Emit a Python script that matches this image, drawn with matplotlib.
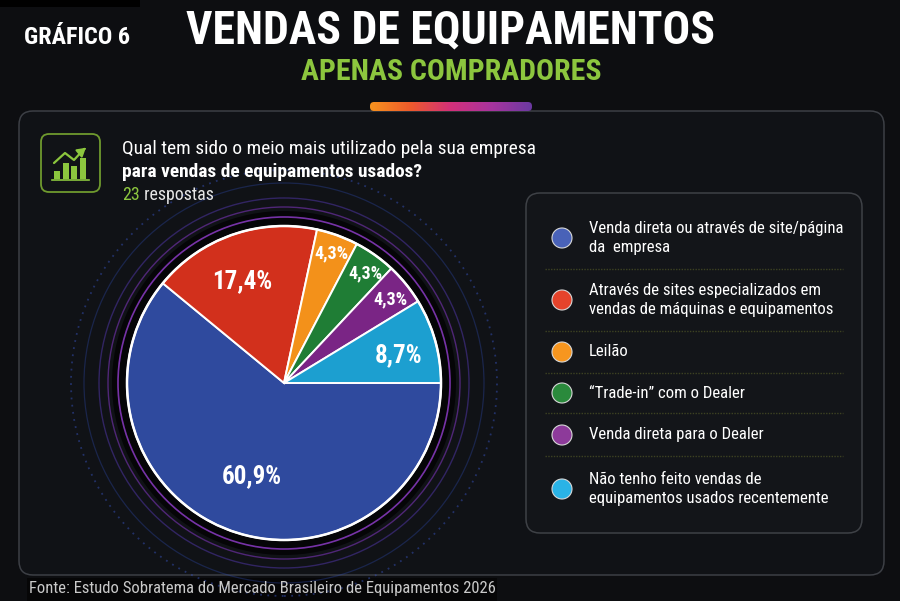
import matplotlib
matplotlib.use("Agg")
import matplotlib.pyplot as plt
import numpy as np
from matplotlib import font_manager as fm
from matplotlib.patches import FancyBboxPatch, Circle, Rectangle
from matplotlib.colors import LinearSegmentedColormap

# ---------------- data ----------------
title = "VENDAS DE EQUIPAMENTOS"
subtitle = "APENAS COMPRADORES"
chart_tag = "GRÁFICO 6"
question_1 = "Qual tem sido o meio mais utilizado pela sua empresa"
question_2 = "para vendas de equipamentos usados?"
n_resp = "23"
resp_word = " respostas"
source = "Fonte: Estudo Sobratema do Mercado Brasileiro de Equipamentos 2026"

categories = [
    "Venda direta ou através de site/página\nda  empresa",
    "Através de sites especializados em\nvendas de máquinas e equipamentos",
    "Leilão",
    "“Trade-in” com o Dealer",
    "Venda direta para o Dealer",
    "Não tenho feito vendas de\nequipamentos usados recentemente",
]
values = [60.9, 17.4, 4.3, 4.3, 4.3, 8.7]
pct_labels = ["60,9%", "17,4%", "4,3%", "4,3%", "4,3%", "8,7%"]

# ---------------- style ----------------
pie_colors = ["#2f4a9e", "#d2301c", "#f3911a", "#1f7d35", "#7a2585", "#1c9fd0"]
dot_colors = ["#4962b8", "#e5432b", "#f7961f", "#2a8a3c", "#8d3a9a", "#2ab3e6"]
label_dist = [0.63, 0.70, 0.88, 0.87, 0.86, 0.75]
label_dang = [1.0, 3.0, 0.0, -1.0, -1.0, -2.0]
label_size = [18, 18, 13, 13, 13, 18]
GREEN = "#8cc63e"
BG = "#0d0e11"

names = {f.name for f in fm.fontManager.ttflist}
def pick(*cands):
    for c in cands:
        if c in names:
            return c
    return "DejaVu Sans"

COND = pick("Roboto Condensed", "Liberation Sans Narrow", "DejaVu Sans")
STRETCH = "condensed" if COND == "DejaVu Sans" else "normal"
REG = pick("Roboto Condensed", "Roboto", "Liberation Sans Narrow", "DejaVu Sans")
RSTRETCH = "condensed" if REG == "DejaVu Sans" else "normal"

W, H = 900, 601
fig = plt.figure(figsize=(9, 6.01), dpi=100, facecolor=BG)
ax = fig.add_axes([0, 0, 1, 1])
ax.set_facecolor(BG)
ax.set_xlim(0, W)
ax.set_ylim(0, H)

def Y(y):
    return H - y

renderer = fig.canvas.get_renderer()
def fit(t, width):
    bb = t.get_window_extent(renderer)
    t.set_fontsize(t.get_fontsize() * width / bb.width)

# ------------ header ------------
ax.add_patch(Rectangle((0, Y(7)), 140, 7, facecolor="#000000", edgecolor="none", zorder=1))
t = ax.text(24, Y(37), chart_tag, color="white", fontsize=14, fontweight="bold",
            family=COND, fontstretch=STRETCH, ha="left", va="center", zorder=5)
fit(t, 106)
t = ax.text(451, Y(30), title, color="white", fontsize=30, fontweight=900,
            family=COND, fontstretch=STRETCH, ha="center", va="center", zorder=5)
fit(t, 528)
t = ax.text(451, Y(72), subtitle, color=GREEN, fontsize=20, fontweight=900,
            family=COND, fontstretch=STRETCH, ha="center", va="center", zorder=5)
fit(t, 300)

# ------------ panel ------------
ax.add_patch(FancyBboxPatch((19, Y(575)), 865, 464,
                            boxstyle="round,pad=0,rounding_size=14",
                            facecolor="#101216", edgecolor="#3c3f45", lw=1.1, zorder=2))

# gradient tab on top of the panel
grad = LinearSegmentedColormap.from_list("g", ["#f7931e", "#ee5a2c", "#d3307a", "#a8349e", "#6b3aa2"])
tab = FancyBboxPatch((370, Y(111)), 162, 9, boxstyle="round,pad=0,rounding_size=4",
                     facecolor="none", edgecolor="none", zorder=3)
ax.add_patch(tab)
im = ax.imshow(np.linspace(0, 1, 256).reshape(1, -1), cmap=grad, aspect="auto",
               extent=(370, 532, Y(111), Y(102)), zorder=3, interpolation="bilinear")
im.set_clip_path(tab)

# ------------ icon ------------
ax.add_patch(FancyBboxPatch((41, Y(192)), 59, 58, boxstyle="round,pad=0,rounding_size=8",
                            facecolor="#111317", edgecolor="#6f9a2e", lw=1.3, zorder=4))
for bx, top in [(54, 171), (63, 163), (71, 166), (80, 158)]:
    ax.add_patch(Rectangle((bx, Y(179)), 6, 179 - top, facecolor=GREEN, edgecolor="none", zorder=5))
ax.plot([52, 89], [Y(180), Y(180)], color=GREEN, lw=1.2, zorder=5)
ax.plot([54, 65, 74, 84], [Y(163), Y(153), Y(160), Y(149)], color=GREEN, lw=1.6,
        zorder=5, solid_capstyle="round")
ax.annotate("", xy=(88, Y(146)), xytext=(82, Y(151)),
            arrowprops=dict(arrowstyle="-|>,head_length=0.5,head_width=0.3", color=GREEN, lw=1.4),
            zorder=5)

# ------------ question ------------
t = ax.text(122, Y(149), question_1, color="white", fontsize=13, family=REG,
            fontstretch=RSTRETCH, ha="left", va="center", zorder=5)
fit(t, 412)
qsize = t.get_fontsize()
t2 = ax.text(122, Y(172), question_2, color="white", fontsize=qsize, fontweight="bold",
             family=REG, fontstretch=RSTRETCH, ha="left", va="center", zorder=5)
t3 = ax.text(122, Y(195), n_resp, color=GREEN, fontsize=qsize * 0.92, family=REG,
             fontstretch=RSTRETCH, ha="left", va="center", zorder=5)
bb = t3.get_window_extent(renderer)
x_end = ax.transData.inverted().transform((bb.x1, 0))[0]
ax.text(x_end, Y(195), resp_word, color="#e6e6e6", fontsize=qsize * 0.92, family=REG,
        fontstretch=RSTRETCH, ha="left", va="center", zorder=5)

# ------------ pie surroundings ------------
cx, cy, R = 284, Y(383), 157
ax.add_patch(Circle((cx, cy), 172, facecolor="#050507", edgecolor="none", zorder=3))
ax.add_patch(Circle((cx, cy), 166, facecolor="none", edgecolor="#8b3bc4", lw=1.2, alpha=0.85, zorder=3))
ax.add_patch(Circle((cx, cy), 176, facecolor="none", edgecolor="#7a34b8", lw=1.0, alpha=0.6, zorder=3))
ax.add_patch(Circle((cx, cy), 185, facecolor="none", edgecolor="#5a3cc0", lw=1.0, alpha=0.45, zorder=3))
ax.add_patch(Circle((cx, cy), 200, facecolor="none", edgecolor="#2e4ab0", lw=0.9, alpha=0.35, zorder=3))
ax.add_patch(Circle((cx, cy), 213, facecolor="none", edgecolor="#3550b8", lw=1.3, alpha=0.5,
                    linestyle=(0, (1, 3)), zorder=3))

wedges, _ = ax.pie(values, colors=pie_colors, startangle=0, counterclock=False,
                   center=(cx, cy), radius=R,
                   wedgeprops=dict(edgecolor="white", linewidth=1.4), frame=True)
for w in wedges:
    w.set_zorder(4)
ax.add_patch(Circle((cx, cy), R, facecolor="none", edgecolor="white", lw=1.8, zorder=4))

for w, lab, d, da, s in zip(wedges, pct_labels, label_dist, label_dang, label_size):
    th = np.deg2rad((w.theta1 + w.theta2) / 2 + da)
    ax.text(cx + R * d * np.cos(th), cy + R * d * np.sin(th), lab, color="white",
            fontsize=s, fontweight="bold", family=COND, fontstretch=STRETCH,
            ha="center", va="center", zorder=6)

# ------------ legend box ------------
ax.add_patch(FancyBboxPatch((526, Y(533)), 336, 340, boxstyle="round,pad=0,rounding_size=14",
                            facecolor="#131519", edgecolor="#3e4146", lw=1.1, zorder=3))
leg_y = [238, 300, 352, 393, 435, 489]
for yy, col in zip(leg_y, dot_colors):
    ax.add_patch(Circle((562, Y(yy)), 10, facecolor=col, edgecolor="#d8d8d8", lw=0.8, zorder=5))
leg_texts = []
for yy, txt in zip(leg_y, categories):
    tt = ax.text(589, Y(yy), txt, color="white", fontsize=11, family=REG, fontstretch=RSTRETCH,
                 ha="left", va="center", linespacing=1.3, zorder=5)
    leg_texts.append(tt)
fit(leg_texts[1], 245)
ls = leg_texts[1].get_fontsize()
for tt in leg_texts:
    tt.set_fontsize(ls)
for yy in [269, 331, 373, 413, 456]:
    ax.plot([545, 843], [Y(yy), Y(yy)], color="#3d4222", lw=1.0, linestyle=(0, (1, 1)), zorder=4)

# ------------ source ------------
ax.add_patch(Rectangle((27, 0), 470, Y(578), facecolor="#060607", edgecolor="none", zorder=1))
t = ax.text(29, Y(588), source, color="#c9c9c9", fontsize=11, family=REG, fontstretch=RSTRETCH,
            ha="left", va="center", zorder=5)
fit(t, 466)

ax.set_xlim(0, W)
ax.set_ylim(0, H)
ax.set_aspect("auto")
ax.axis("off")
fig.savefig("out.png", dpi=100, facecolor=BG)
